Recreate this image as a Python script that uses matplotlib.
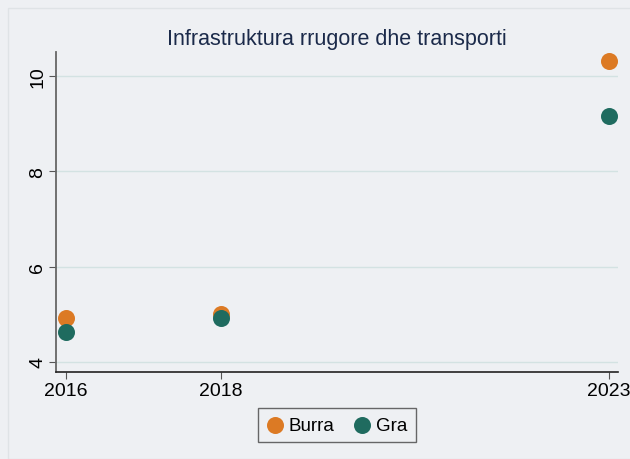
import matplotlib
matplotlib.use("Agg")
import matplotlib.pyplot as plt
from matplotlib.patches import Rectangle

years = [2016, 2018, 2023]
burra = [4.92, 5.00, 10.31]
gra = [4.63, 4.92, 9.16]
series_names = ["Burra", "Gra"]
yticks = [4, 6, 8, 10]
title = "Infrastruktura rrugore dhe transporti"

bg = "#eef0f3"
c_burra = "#dc7a24"
c_gra = "#1f6b5f"

plt.rcParams['font.family'] = ['Liberation Sans', 'DejaVu Sans']

fig = plt.figure(figsize=(6.3, 4.6), dpi=100, facecolor=bg)
fig.patches.append(Rectangle((8/630, 0), 1, 1 - 9/460, transform=fig.transFigure,
                             fill=False, edgecolor="#dfe3e6", linewidth=1.0))
ax = fig.add_axes([56/630, 87/460, 562/630, 320/460])
ax.set_facecolor(bg)

ax.scatter(years, burra, s=150, color=c_burra, label=series_names[0], zorder=3, linewidths=0)
ax.scatter(years, gra, s=150, color=c_gra, label=series_names[1], zorder=4, linewidths=0)

ax.set_xlim(2015.87, 2023.12)
ax.set_ylim(3.79, 10.5)
ax.set_xticks(years)
ax.set_xticklabels([str(y) for y in years], fontsize=14)
ax.set_yticks(yticks)
ax.set_yticklabels([str(v) for v in yticks], fontsize=14, rotation=90, va='center')
ax.grid(axis='y', color="#d3e2e2", linewidth=1.0)
ax.grid(axis='x', visible=False)
ax.set_axisbelow(True)

for s in ['top', 'right']:
    ax.spines[s].set_visible(False)
ax.spines['left'].set_color('#666666')
ax.spines['left'].set_linewidth(1.3)
ax.spines['bottom'].set_color('#222222')
ax.spines['bottom'].set_linewidth(1.2)
ax.tick_params(axis='both', length=5, color='#555555', pad=2)

fig.text(337/630, 1 - 39/460, title, ha='center', va='center', fontsize=15.5, color='#1b2a4a')

leg = ax.legend(loc='upper center', bbox_to_anchor=(0.5, -0.113), ncol=2, frameon=True,
                fontsize=13.5, handletextpad=0.3, columnspacing=1.0, markerscale=1.0,
                borderpad=0.45, borderaxespad=0, fancybox=False, handlelength=0.9)
leg.get_frame().set_edgecolor('#444444')
leg.get_frame().set_facecolor(bg)
leg.get_frame().set_linewidth(1.0)

fig.savefig("out.png", dpi=100, facecolor=bg)
